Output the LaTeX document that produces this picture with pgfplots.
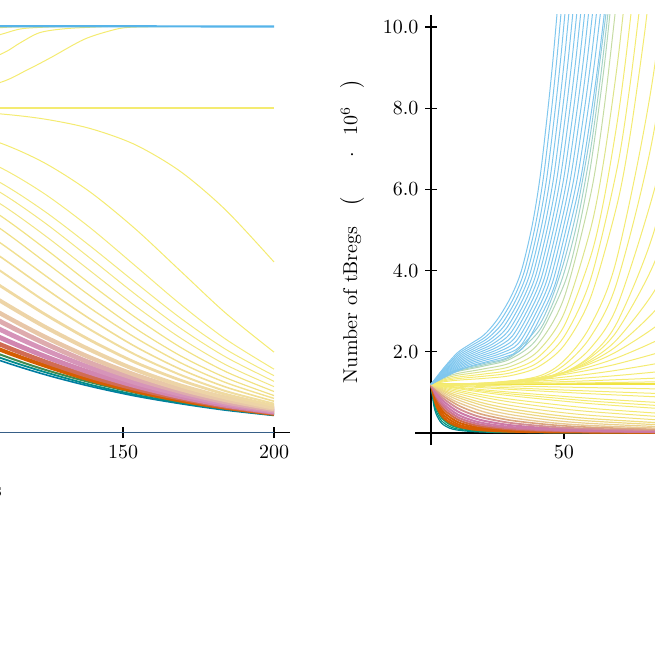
\documentclass[border=0pt]{standalone}
\usepackage{pgfplots}
\pgfplotsset{compat=1.18}
\definecolor{okblue}{RGB}{0,114,178}
\definecolor{okgreen}{RGB}{0,158,115}
\definecolor{okverm}{RGB}{213,94,0}
\definecolor{okpink}{RGB}{204,121,167}
\definecolor{okyellow}{RGB}{240,228,66}
\definecolor{oksky}{RGB}{86,180,233}
\definecolor{axisblue}{RGB}{55,95,135}
\colorlet{skyl}{oksky!75!white}
\colorlet{yell}{okyellow!75!white}
\newcommand{\cv}[3]{\addplot[color=#1,line width=#2] coordinates {#3};}
\pgfplotsset{
  tb/.style={
    axis lines=middle,
    axis line style={-,black,line width=0.6pt},
    every inner x axis line/.append style={-},
    every inner y axis line/.append style={-},
    every tick/.style={black,line width=0.6pt},
    tick align=center,
    major tick length=5.6pt,
    minor tick num=0,
    yticklabel style={/pgf/number format/.cd,fixed,fixed zerofill,precision=1},
    every axis plot post/.append style={smooth,mark=none,line join=round},
    clip=true,
  }
}
\begin{document}
\begin{tikzpicture}
\useasboundingbox (0,0) rectangle (327.5pt,327.5pt);
\clip (0,0) rectangle (327.5pt,327.5pt);
% ---------------- left axis ----------------
\begin{axis}[tb,
  at={(-173pt,105.16pt)}, anchor=south west,
  x=1.51pt, y=20.3pt,
  xmin=-5.3, xmax=205.3, ymin=-0.3, ymax=10.3,
  xtick={150,200}, ytick=\empty,
  xlabel={Days},
  every axis x label/.style={at={(axis description cs:0.513,-0.110)},anchor=center},
]
% decaying family
\cv{okblue!75!okgreen}{0.8pt}{(0,8)(90,2.30)(109,1.78)(124,1.43)(139,1.14)(154,0.90)(169,0.71)(184,0.55)(200,0.42)}
\cv{okgreen!60!okblue}{0.9pt}{(0,8)(90,2.39)(109,1.85)(124,1.49)(139,1.18)(154,0.93)(169,0.73)(184,0.57)(200,0.43)}
\cv{okgreen!70!okverm}{1pt}{(0,8)(90,2.49)(109,1.93)(124,1.55)(139,1.24)(154,0.98)(169,0.76)(184,0.59)(200,0.45)}
\cv{okverm}{2pt}{(0,8)(90,2.65)(109,2.05)(124,1.65)(139,1.30)(154,1.02)(169,0.79)(184,0.61)(200,0.46)}
\cv{okverm!50!okpink}{2.2pt}{(0,8)(90,2.81)(109,2.18)(124,1.75)(139,1.38)(154,1.08)(169,0.84)(184,0.64)(200,0.48)}
\cv{okpink!90!white}{2.4pt}{(0,8)(90,3.03)(109,2.35)(124,1.88)(139,1.48)(154,1.15)(169,0.88)(184,0.67)(200,0.50)}
\cv{okpink!80!white}{2.4pt}{(0,8)(90,3.28)(109,2.55)(124,2.04)(139,1.60)(154,1.23)(169,0.94)(184,0.71)(200,0.52)}
\cv{okpink!80!okyellow!75!white}{2.4pt}{(0,8)(90,3.53)(109,2.75)(124,2.20)(139,1.72)(154,1.33)(169,1.01)(184,0.75)(200,0.55)}
\cv{okpink!55!okyellow!65!white}{2.2pt}{(0,8)(90,3.76)(109,2.95)(124,2.36)(139,1.85)(154,1.42)(169,1.07)(184,0.80)(200,0.58)}
\cv{okpink!42!okyellow!60!white}{2pt}{(0,8)(90,4.14)(109,3.26)(124,2.61)(139,2.04)(154,1.55)(169,1.16)(184,0.86)(200,0.61)}
\cv{okpink!34!okyellow!60!white}{1.4pt}{(0,8)(90,4.55)(109,3.63)(124,2.92)(139,2.28)(154,1.73)(169,1.29)(184,0.94)(200,0.66)}
\cv{okpink!28!okyellow!60!white}{1pt}{(0,8)(90,4.95)(109,4.00)(124,3.24)(139,2.54)(154,1.92)(169,1.42)(184,1.02)(200,0.71)}
\cv{okpink!24!okyellow!65!white}{0.8pt}{(0,8)(90,5.31)(109,4.35)(124,3.56)(139,2.80)(154,2.12)(169,1.56)(184,1.12)(200,0.77)}
\cv{okpink!20!okyellow!65!white}{0.7pt}{(0,8)(90,5.64)(109,4.69)(124,3.88)(139,3.07)(154,2.34)(169,1.72)(184,1.23)(200,0.84)}
\cv{okpink!16!okyellow!70!white}{0.6pt}{(0,8)(90,5.96)(109,5.04)(124,4.21)(139,3.37)(154,2.57)(169,1.89)(184,1.35)(200,0.91)}
\cv{okpink!13!okyellow!70!white}{0.6pt}{(0,8)(90,6.23)(109,5.36)(124,4.54)(139,3.67)(154,2.84)(169,2.10)(184,1.50)(200,1.01)}
\cv{okpink!10!okyellow!70!white}{0.5pt}{(0,8)(90,6.46)(109,5.65)(124,4.86)(139,3.99)(154,3.12)(169,2.33)(184,1.67)(200,1.13)}
\cv{okpink!7!okyellow!70!white}{0.5pt}{(0,8)(90,6.68)(109,5.93)(124,5.17)(139,4.30)(154,3.41)(169,2.57)(184,1.86)(200,1.26)}
\cv{okpink!4!okyellow!70!white}{0.5pt}{(0,8)(90,6.86)(109,6.17)(124,5.45)(139,4.60)(154,3.70)(169,2.82)(184,2.05)(200,1.40)}
\cv{okpink!2!okyellow!70!white}{0.5pt}{(0,8)(90,7.13)(109,6.54)(124,5.88)(139,5.05)(154,4.11)(169,3.16)(184,2.30)(200,1.56)}
\cv{yell}{0.5pt}{(0,8)(90,7.54)(109,7.14)(124,6.64)(139,5.93)(154,5.02)(169,3.98)(184,2.94)(200,1.98)}
\cv{yell}{0.5pt}{(0,8)(90,7.93)(109,7.85)(124,7.72)(139,7.49)(154,7.09)(169,6.43)(184,5.48)(200,4.2)}
% flat
\cv{okyellow!75!white}{0.9pt}{(0,8)(200,8)}
% rising family
\cv{yell}{0.5pt}{(0,8)(60,8.05)(90,8.25)(109.3,8.62)(118,8.92)(126,9.23)(137,9.68)(146,9.9)(152,9.98)(165,10)}
\cv{yell}{0.5pt}{(0,8)(60,8.2)(90,8.75)(109.3,9.31)(116,9.6)(122.5,9.85)(131.5,9.95)(145,10)}
\cv{yell}{0.5pt}{(0,8)(60,8.6)(90,9.4)(109.3,9.8)(117,9.95)(130,10)}
\cv{yell}{0.5pt}{(0,8)(50,9.1)(90,9.8)(109.3,9.97)(120,10)}
\cv{oksky}{1.1pt}{(0,8)(20,9.2)(40,9.9)(60,10)(200,10)}
% zero line
\cv{axisblue}{0.9pt}{(0,0)(200,0)}
\end{axis}
% ---------------- right axis ----------------
\begin{axis}[tb,
  at={(207.52pt,104.91pt)}, anchor=south west,
  x=1.33pt, y=20.3pt,
  xmin=-6, xmax=240, ymin=-0.3, ymax=10.3,
  xtick={50}, ytick={2,4,6,8,10},
  ylabel={Number of tBregs\hspace{10pt}$\left(\hspace{20pt}\cdot\hspace{8pt}10^{6}\hspace{9pt}\right)$},
  every axis y label/.style={at={(axis description cs:-0.0963,0.497)},anchor=center,rotate=90},
]
% decaying family
\cv{okblue!50!okgreen}{0.6pt}{(0,1.2)(1,0.699)(2,0.457)(4,0.239)(7,0.119)(10,0.071)(15,0.038)(20,0.023)(30,0.011)(90,0.001)}
\cv{okgreen!80!okblue}{0.6pt}{(0,1.2)(1,0.768)(2,0.533)(4,0.3)(7,0.159)(10,0.098)(15,0.053)(20,0.033)(30,0.017)(90,0.002)}
\cv{okgreen}{0.7pt}{(0,1.2)(1,0.833)(2,0.612)(4,0.370)(7,0.208)(10,0.133)(15,0.075)(20,0.048)(30,0.024)(90,0.003)}
\cv{okgreen!40!okverm}{0.8pt}{(0,1.2)(1,0.862)(2,0.649)(4,0.406)(7,0.235)(10,0.153)(15,0.088)(20,0.057)(30,0.029)(90,0.004)}
\cv{okverm}{1pt}{(0,1.2)(2,0.678)(5,0.360)(10,0.171)(15,0.099)(20,0.065)(30,0.034)(45,0.017)(90,0.005)}
\cv{okverm}{1pt}{(0,1.2)(2,0.744)(5,0.428)(10,0.217)(15,0.131)(20,0.088)(30,0.047)(45,0.024)(90,0.007)}
\cv{okverm}{1pt}{(0,1.2)(2,0.806)(5,0.499)(10,0.272)(15,0.171)(20,0.117)(30,0.065)(45,0.034)(90,0.010)}
\cv{okverm!60!okpink}{1pt}{(0,1.2)(2,0.862)(5,0.571)(10,0.332)(15,0.217)(20,0.153)(30,0.088)(45,0.047)(90,0.014)}
\cv{okpink!85!okverm}{1pt}{(0,1.2)(2,0.907)(5,0.635)(10,0.392)(15,0.266)(20,0.192)(30,0.114)(45,0.063)(60,0.040)(90,0.020)}
\cv{okpink}{1pt}{(0,1.2)(2,0.950)(5,0.699)(10,0.457)(15,0.322)(20,0.239)(30,0.147)(45,0.084)(60,0.054)(90,0.028)}
\cv{okpink}{1pt}{(0,1.2)(2,0.992)(5,0.768)(10,0.533)(15,0.392)(20,0.3)(30,0.192)(45,0.114)(60,0.075)(90,0.040)}
\cv{okpink!80!okyellow}{0.9pt}{(0,1.2)(2,1.029)(5,0.833)(10,0.612)(15,0.469)(20,0.370)(30,0.248)(45,0.153)(60,0.104)(90,0.057)}
\cv{okpink!60!okyellow}{0.8pt}{(0,1.2)(2,1.060)(5,0.892)(10,0.689)(15,0.548)(20,0.446)(30,0.312)(45,0.202)(60,0.141)(90,0.080)}
\cv{okpink!45!okyellow!75!white}{0.7pt}{(0,1.2)(5,0.940)(10,0.756)(20,0.519)(30,0.379)(45,0.255)(60,0.183)(90,0.108)}
\cv{okpink!35!okyellow!75!white}{0.6pt}{(0,1.2)(5,0.983)(10,0.820)(20,0.595)(30,0.452)(45,0.317)(60,0.235)(90,0.144)}
\cv{okpink!25!okyellow!75!white}{0.6pt}{(0,1.2)(5,1.019)(10,0.877)(20,0.668)(30,0.526)(45,0.385)(60,0.294)(90,0.187)}
\cv{okpink!18!okyellow!75!white}{0.6pt}{(0,1.2)(5,1.048)(10,0.923)(20,0.732)(30,0.595)(45,0.452)(60,0.354)(90,0.235)}
\cv{okpink!12!okyellow!75!white}{0.5pt}{(0,1.2)(5,1.078)(10,0.974)(20,0.806)(30,0.678)(45,0.537)(60,0.435)(90,0.303)}
\cv{okpink!6!okyellow!75!white}{0.5pt}{(0,1.2)(5,1.104)(10,1.019)(20,0.877)(30,0.762)(45,0.628)(60,0.526)(90,0.385)}
\cv{yell}{0.5pt}{(0,1.2)(15,0.991)(30,0.832)(60,0.610)(90,0.467)}
\cv{yell}{0.5pt}{(0,1.2)(15,1.044)(30,0.917)(60,0.723)(90,0.585)}
\cv{yell}{0.5pt}{(0,1.2)(15,1.071)(30,0.962)(60,0.788)(90,0.657)}
\cv{yell}{0.5pt}{(0,1.2)(15,1.096)(30,1.005)(60,0.853)(90,0.734)}
\cv{yell}{0.5pt}{(0,1.2)(15,1.134)(30,1.074)(60,0.967)(90,0.875)}
\cv{yell}{0.5pt}{(0,1.2)(15,1.155)(30,1.112)(60,1.033)(90,0.962)}
\cv{yell}{0.5pt}{(0,1.2)(30,1.158)(60,1.118)(90,1.080)}
% flat
\cv{okyellow}{0.9pt}{(0,1.2)(90,1.2)}
% rising, gradual
\cv{yell}{0.5pt}{(0,1.2)(20,1.207)(40,1.220)(60,1.236)(84,1.26)(95,1.272)}
\cv{yell}{0.5pt}{(0,1.2)(20,1.215)(40,1.246)(60,1.288)(84,1.35)(95,1.383)}
\cv{yell}{0.5pt}{(0,1.2)(20,1.223)(40,1.279)(50,1.318)(60,1.364)(70,1.416)(84,1.5)(95,1.574)}
\cv{yell}{0.5pt}{(0,1.2)(20,1.228)(40,1.313)(50,1.377)(60,1.455)(70,1.547)(84,1.7)(95,1.840)}
\cv{yell}{0.5pt}{(0,1.2)(20,1.232)(40,1.347)(50,1.440)(60,1.558)(70,1.702)(84,1.95)(95,2.183)}
\cv{yell}{0.5pt}{(0,1.2)(20,1.225)(40,1.353)(50,1.472)(60,1.638)(70,1.854)(84,2.25)(95,2.646)}
\cv{yell}{0.5pt}{(0,1.2)(20,1.219)(40,1.351)(50,1.495)(60,1.710)(70,2.010)(84,2.6)(95,3.225)}
\cv{yell}{0.5pt}{(0,1.2)(20,1.212)(40,1.334)(50,1.493)(60,1.754)(70,2.151)(84,3.0)(95,3.969)}
\cv{yell}{0.5pt}{(0,1.2)(20,1.208)(40,1.318)(50,1.489)(60,1.799)(70,2.309)(84,3.5)(95,4.96)}
\cv{yell}{0.5pt}{(0,1.2)(20,1.205)(40,1.307)(50,1.491)(60,1.860)(70,2.521)(84,4.2)(95,6.42)}
\cv{yell}{0.5pt}{(0,1.2)(20,1.203)(40,1.293)(50,1.484)(60,1.906)(70,2.727)(84,5.0)(95,8.23)}
\cv{yell}{0.5pt}{(0,1.2)(20,1.204)(40,1.317)(50,1.558)(60,2.092)(70,3.129)(84,6.0)(95,9.08)}
\cv{yell}{0.5pt}{(0,1.2)(20,1.205)(40,1.354)(50,1.670)(60,2.371)(70,3.732)(84,7.5)(95,12.86)}
\cv{yell}{0.5pt}{(0,1.2)(20,1.206)(40,1.391)(50,1.782)(60,2.650)(70,4.335)(84,9.0)(95,15.6)}
% rising, explosive (T = 82 ... 67)
\cv{yell}{0.5pt}{(0,1.2)(5,1.263)(10,1.301)(20,1.346)(30,1.414)(40,1.618)(50,2.154)(60,3.338)(70,5.64)(75,7.397)(80,9.703)(82,10.8)}
\cv{yell}{0.5pt}{(0,1.2)(5,1.287)(10,1.339)(20,1.400)(30,1.483)(40,1.728)(50,2.370)(60,3.786)(70,6.533)(75,8.660)(79,10.8)}
\cv{yell}{0.5pt}{(0,1.2)(5,1.310)(10,1.377)(20,1.454)(30,1.556)(40,1.852)(50,2.629)(60,4.343)(65,5.744)(70,7.656)(73,9.099)(76,10.8)}
\cv{okyellow!80!oksky!75!white}{0.5pt}{(0,1.2)(5,1.338)(10,1.422)(20,1.517)(30,1.641)(40,2.002)(50,2.945)(60,5.027)(65,6.728)(70,9.05)(73,10.8)}
\cv{okyellow!60!oksky!75!white}{0.5pt}{(0,1.2)(5,1.365)(10,1.466)(20,1.581)(30,1.732)(40,2.172)(50,3.324)(60,5.867)(65,7.957)(70,10.8)}
\cv{okyellow!45!oksky!75!white}{0.5pt}{(0,1.2)(5,1.397)(10,1.516)(20,1.651)(30,1.827)(40,2.332)(50,3.653)(55,4.849)(60,6.566)(65,8.962)(68,10.8)}
\cv{okyellow!30!oksky!75!white}{0.5pt}{(0,1.2)(5,1.41)(10,1.535)(20,1.682)(30,1.87)(40,2.46)(45,3.07)(50,3.94)(55,5.2)(60,6.98)(64,8.9)(67.3,10.8)}
\cv{okyellow!15!oksky!75!white}{0.5pt}{(0,1.2)(5,1.42)(10,1.555)(20,1.714)(30,1.90)(40,2.59)(45,3.25)(50,4.22)(55,5.55)(60,7.39)(63,8.9)(66.7,10.8)}
% blue fan (T = 66 ... 48)
\cv{skyl}{0.5pt}{(0,1.2)(6.88,1.431)(13.75,1.629)(20.63,1.75)(27.5,1.871)(34.38,2.08)(41.25,2.866)(46.75,3.685)(52.25,5.1)(56.38,6.3)(60.5,8.0)(63.25,9.3)(66,10.8)}
\cv{skyl}{0.5pt}{(0,1.2)(6.72,1.447)(13.44,1.658)(20.16,1.788)(26.88,1.917)(33.59,2.14)(40.31,2.907)(45.69,3.711)(51.06,5.1)(55.09,6.3)(59.13,8.0)(61.81,9.3)(64.5,10.8)}
\cv{skyl}{0.5pt}{(0,1.2)(6.56,1.463)(13.13,1.688)(19.69,1.825)(26.25,1.963)(32.81,2.2)(39.38,2.947)(44.63,3.738)(49.88,5.1)(53.81,6.3)(57.75,8.0)(60.38,9.3)(63,10.8)}
\cv{skyl}{0.5pt}{(0,1.2)(6.41,1.478)(12.81,1.717)(19.22,1.863)(25.63,2.008)(32.03,2.26)(38.44,2.987)(43.56,3.764)(48.69,5.1)(52.53,6.3)(56.38,8.0)(58.94,9.3)(61.5,10.8)}
\cv{skyl}{0.5pt}{(0,1.2)(6.25,1.494)(12.5,1.746)(18.75,1.9)(25,2.054)(31.25,2.32)(37.5,3.028)(42.5,3.79)(47.5,5.1)(51.25,6.3)(55,8.0)(57.5,9.3)(60,10.8)}
\cv{skyl}{0.5pt}{(0,1.2)(6.09,1.51)(12.19,1.775)(18.28,1.938)(24.38,2.1)(30.47,2.38)(36.56,3.068)(41.44,3.816)(46.31,5.1)(49.97,6.3)(53.63,8.0)(56.06,9.3)(58.5,10.8)}
\cv{skyl}{0.5pt}{(0,1.2)(5.94,1.526)(11.88,1.805)(17.81,1.975)(23.75,2.146)(29.69,2.44)(35.63,3.108)(40.38,3.843)(45.13,5.1)(48.69,6.3)(52.25,8.0)(54.63,9.3)(57,10.8)}
\cv{skyl}{0.5pt}{(0,1.2)(5.78,1.541)(11.56,1.834)(17.34,2.013)(23.13,2.191)(28.91,2.5)(34.69,3.148)(39.31,3.869)(43.94,5.1)(47.41,6.3)(50.88,8.0)(53.19,9.3)(55.5,10.8)}
\cv{skyl}{0.5pt}{(0,1.2)(5.63,1.557)(11.25,1.863)(16.88,2.05)(22.5,2.237)(28.13,2.56)(33.75,3.189)(38.25,3.895)(42.75,5.1)(46.13,6.3)(49.5,8.0)(51.75,9.3)(54,10.8)}
\cv{skyl}{0.5pt}{(0,1.2)(5.47,1.573)(10.94,1.892)(16.41,2.088)(21.88,2.283)(27.34,2.62)(32.81,3.229)(37.19,3.921)(41.56,5.1)(44.84,6.3)(48.13,8.0)(50.31,9.3)(52.5,10.8)}
\cv{skyl}{0.5pt}{(0,1.2)(5.31,1.589)(10.63,1.922)(15.94,2.125)(21.25,2.329)(26.56,2.68)(31.88,3.269)(36.13,3.948)(40.38,5.1)(43.56,6.3)(46.75,8.0)(48.88,9.3)(51,10.8)}
\cv{skyl}{0.5pt}{(0,1.2)(5.16,1.604)(10.31,1.951)(15.47,2.163)(20.63,2.374)(25.78,2.74)(30.94,3.31)(35.06,3.974)(39.19,5.1)(42.28,6.3)(45.38,8.0)(47.44,9.3)(49.5,10.8)}
\cv{skyl}{0.5pt}{(0,1.2)(5,1.62)(10,1.98)(15,2.2)(20,2.42)(25,2.8)(30,3.35)(34,4.0)(38,5.1)(41,6.3)(44,8.0)(46,9.3)(48,10.8)}
\end{axis}
\end{tikzpicture}
\end{document}
